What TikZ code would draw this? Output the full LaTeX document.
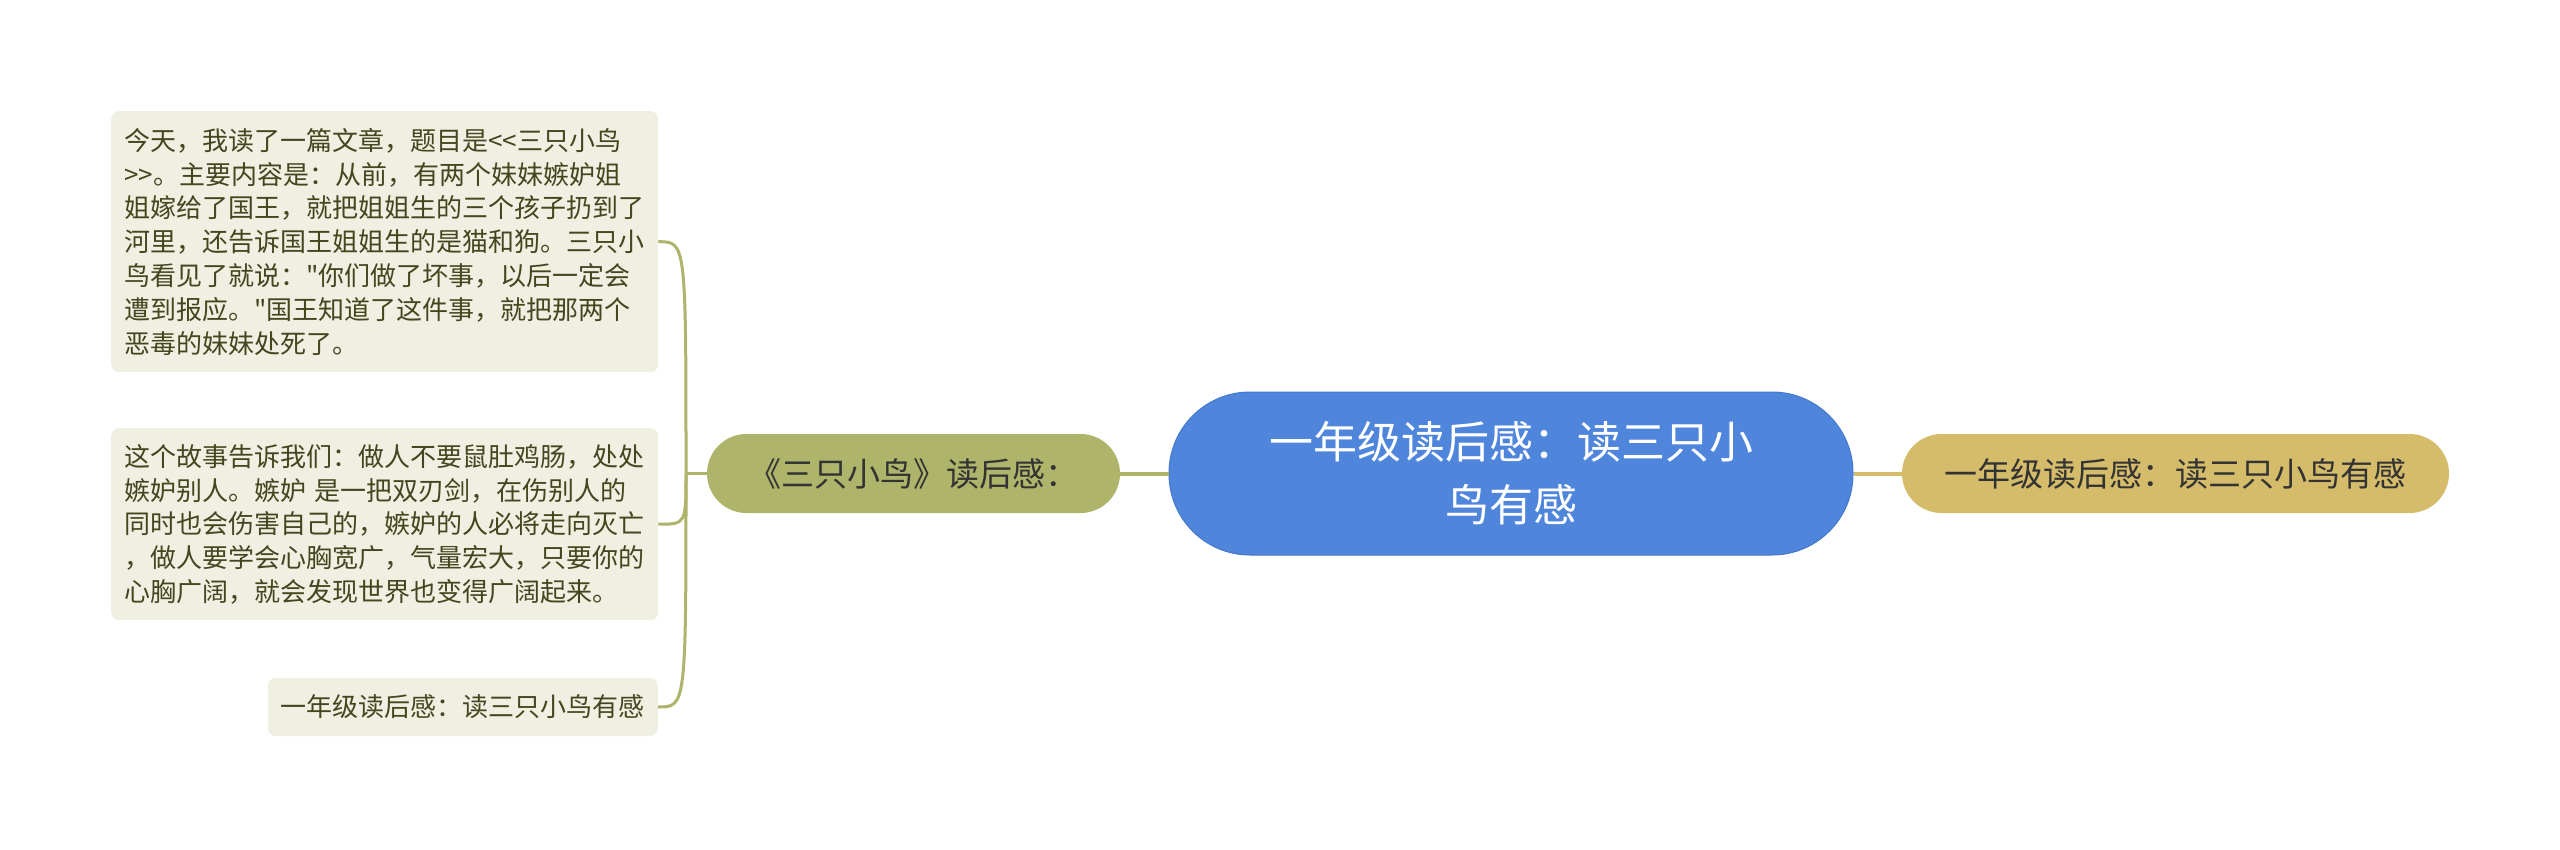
\documentclass[tikz,border=0pt]{standalone}
\usepackage{fontspec}
\newfontfamily\cjk{Noto Sans CJK SC}
\definecolor{centerfill}{HTML}{4F86DB}
\definecolor{centerdraw}{HTML}{4479CC}
\definecolor{olive}{HTML}{AEB56A}
\definecolor{gold}{HTML}{D5BC6B}
\definecolor{leaffill}{HTML}{EFEFE2}
\definecolor{leaftext}{HTML}{45451F}
\definecolor{darktext}{HTML}{333333}
\tikzset{
  leafbox/.style={fill=leaffill, rounded corners=8pt, inner xsep=13pt, inner ysep=0pt,
    font=\cjk\fontsize{26}{33.8}\selectfont, text=leaftext, align=left},
  branchbox/.style={rounded corners=39.5pt, minimum height=79pt, inner sep=0pt,
    font=\cjk\fontsize{33}{40}\selectfont, text=darktext},
  centerbox/.style={fill=centerfill, draw=centerdraw, line width=1pt, rounded corners=81pt,
    minimum width=684pt, minimum height=163pt, inner sep=0pt, align=center,
    font=\cjk\fontsize{44}{63}\selectfont, text=white},
  oliveline/.style={draw=olive, line width=4pt},
  leafline/.style={draw=olive, line width=3pt},
  goldline/.style={draw=gold, line width=4pt},
}
\begin{document}
\begin{tikzpicture}[x=1pt,y=-1pt]
\useasboundingbox[fill=white] (0,0) rectangle (2560,849);

\node[centerbox] (center) at (1511,473.5) {一年级读后感：读三只小\\鸟有感};
\node[branchbox, fill=olive, minimum width=413pt] (branch) at (913.5,473.5) {《三只小鸟》读后感：};
\node[branchbox, fill=gold, minimum width=547pt] (right) at (2175.5,473.5) {一年级读后感：读三只小鸟有感};

\node[leafbox, anchor=north west, text width=521pt, minimum height=261pt] (leafA) at (111,111) {今天，我读了一篇文章，题目是<<三只小鸟\\
>>。主要内容是：从前，有两个妹妹嫉妒姐\\
姐嫁给了国王，就把姐姐生的三个孩子扔到了\\
河里，还告诉国王姐姐生的是猫和狗。三只小\\
鸟看见了就说："你们做了坏事，以后一定会\\
遭到报应。"国王知道了这件事，就把那两个\\
恶毒的妹妹处死了。};

\node[leafbox, anchor=north west, text width=521pt, minimum height=192pt] (leafB) at (111,428) {这个故事告诉我们：做人不要鼠肚鸡肠，处处\\
嫉妒别人。嫉妒 是一把双刃剑，在伤别人的\\
同时也会伤害自己的，嫉妒的人必将走向灭亡\\
，做人要学会心胸宽广，气量宏大，只要你的\\
心胸广阔，就会发现世界也变得广阔起来。};

\node[leafbox, anchor=east, minimum height=58pt] (leafC) at (658,707) {一年级读后感：读三只小鸟有感};

\draw[oliveline] (center.west) -- (branch.east);
\draw[goldline] (center.east) -- (right.west);

\coordinate (J) at (686,473.5);
\draw[leafline] (branch.west) -- (J);
\draw[leafline] (J) .. controls (J |- leafA.east) and (J |- leafA.east) .. (leafA.east);
\draw[leafline] (J) .. controls (J |- leafB.east) and (J |- leafB.east) .. (leafB.east);
\draw[leafline] (J) .. controls (J |- leafC.east) and (J |- leafC.east) .. (leafC.east);
\end{tikzpicture}
\end{document}
